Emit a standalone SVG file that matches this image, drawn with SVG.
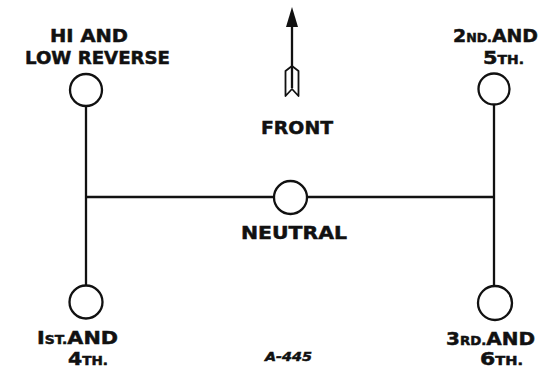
<svg xmlns="http://www.w3.org/2000/svg" width="542" height="368" viewBox="0 0 542 368">
<style>
.n{fill:#fff;stroke:#111;stroke-width:2.3}
.c{stroke:#111;stroke-width:2.3;fill:none}
.t{font-family:"DejaVu Sans","Liberation Sans",sans-serif;font-weight:bold;fill:#111;stroke:#111;stroke-width:0.5;font-size:18px;text-anchor:middle}
.s{font-size:12px}
</style>
<rect width="542" height="368" fill="#fff"/>
<g id="connectors">
<line class="c" x1="86" y1="106" x2="86" y2="286"/>
<line class="c" x1="494" y1="105" x2="494" y2="287"/>
<line class="c" x1="86" y1="197" x2="274" y2="197"/>
<line class="c" x1="307" y1="197" x2="494" y2="197"/>
</g>
<g id="front">
<line class="c" x1="292" y1="20" x2="292" y2="88"/>
<path d="M292 7 L286 27 L298 27 Z" fill="#111"/>
<path d="M292 66 L285.5 71 L285.5 96 L292 89 L298.5 96 L298.5 71 Z" fill="none" stroke="#111" stroke-width="1.8" stroke-linejoin="round"/>
<text class="t" x="297" y="134" textLength="72" lengthAdjust="spacingAndGlyphs">FRONT</text>
</g>
<g id="hi-low-reverse">
<circle class="n" cx="86" cy="90" r="16"/>
<text class="t" x="89" y="42" textLength="78" lengthAdjust="spacingAndGlyphs">HI AND</text>
<text class="t" x="97.5" y="64" textLength="145" lengthAdjust="spacingAndGlyphs">LOW REVERSE</text>
</g>
<g id="second-fifth">
<circle class="n" cx="494" cy="89" r="15.5"/>
<text class="t" x="495.5" y="42" textLength="85" lengthAdjust="spacingAndGlyphs">2<tspan class="s">ND.</tspan>AND</text>
<text class="t" x="503.5" y="64" textLength="41" lengthAdjust="spacingAndGlyphs">5<tspan class="s">TH.</tspan></text>
</g>
<g id="neutral">
<circle class="n" cx="290.5" cy="197.5" r="16.5"/>
<text class="t" x="294" y="239" textLength="106" lengthAdjust="spacingAndGlyphs">NEUTRAL</text>
</g>
<g id="first-fourth">
<circle class="n" cx="86" cy="302" r="16.5"/>
<text class="t" x="77.5" y="344" textLength="81" lengthAdjust="spacingAndGlyphs">I<tspan class="s">ST.</tspan>AND</text>
<text class="t" x="88" y="365" textLength="40" lengthAdjust="spacingAndGlyphs">4<tspan class="s">TH.</tspan></text>
</g>
<g id="third-sixth">
<circle class="n" cx="495" cy="303" r="17"/>
<text class="t" x="490.5" y="345" textLength="89" lengthAdjust="spacingAndGlyphs">3<tspan class="s">RD.</tspan>AND</text>
<text class="t" x="501.5" y="365" textLength="43" lengthAdjust="spacingAndGlyphs">6<tspan class="s">TH.</tspan></text>
</g>
<text class="t" x="288.5" y="361" style="font-size:13px;font-style:italic" textLength="47" lengthAdjust="spacingAndGlyphs">A-445</text>
</svg>
